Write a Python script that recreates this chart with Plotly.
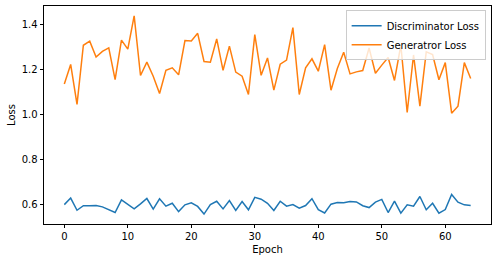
import plotly.graph_objects as go

epochs = list(range(65))
disc_loss = [0.601, 0.630, 0.576, 0.596, 0.596, 0.597, 0.591, 0.579, 0.566, 0.622,
             0.601, 0.582, 0.604, 0.628, 0.581, 0.627, 0.594, 0.607, 0.570, 0.600,
             0.609, 0.593, 0.559, 0.601, 0.616, 0.582, 0.619, 0.575, 0.615, 0.578,
             0.633, 0.625, 0.607, 0.575, 0.616, 0.594, 0.601, 0.585, 0.597, 0.627,
             0.579, 0.564, 0.603, 0.610, 0.609, 0.615, 0.613, 0.596, 0.588, 0.612,
             0.624, 0.566, 0.616, 0.563, 0.600, 0.594, 0.637, 0.578, 0.607, 0.563,
             0.579, 0.646, 0.612, 0.600, 0.597]
gen_loss = [1.135, 1.222, 1.045, 1.307, 1.325, 1.255, 1.280, 1.295, 1.155, 1.330,
            1.290, 1.437, 1.173, 1.232, 1.170, 1.093, 1.196, 1.207, 1.176, 1.328,
            1.326, 1.360, 1.235, 1.232, 1.335, 1.196, 1.303, 1.188, 1.170, 1.089,
            1.354, 1.174, 1.251, 1.108, 1.223, 1.241, 1.385, 1.089, 1.207, 1.247,
            1.192, 1.310, 1.108, 1.204, 1.276, 1.180, 1.189, 1.195, 1.295, 1.183,
            1.219, 1.253, 1.151, 1.307, 1.009, 1.264, 1.037, 1.278, 1.266, 1.154,
            1.230, 1.006, 1.037, 1.230, 1.160]
x_ticks = [0, 10, 20, 30, 40, 50, 60]
y_ticks = [0.6, 0.8, 1.0, 1.2, 1.4]

FONT = "DejaVu Sans"

fig = go.Figure()
fig.add_trace(go.Scatter(x=epochs, y=disc_loss, mode="lines", name="Discriminator Loss",
                         line=dict(color="#1f77b4", width=1.5)))
fig.add_trace(go.Scatter(x=epochs, y=gen_loss, mode="lines", name="Generatror Loss",
                         line=dict(color="#ff7f0e", width=1.5)))

xmin, xmax = min(epochs), max(epochs)
xm = (xmax - xmin) * 0.05
allv = disc_loss + gen_loss
ymin, ymax = min(allv), max(allv)
ym = (ymax - ymin) * 0.05

axis_common = dict(showgrid=False, zeroline=False, showline=True, linecolor="black",
                   linewidth=0.8, mirror=True, ticks="outside", ticklen=3.5,
                   tickwidth=0.8, tickcolor="black",
                   tickfont=dict(family=FONT, size=10, color="black"))

fig.update_layout(
    width=497, height=262,
    margin=dict(l=44, r=6, t=6, b=38),
    paper_bgcolor="white", plot_bgcolor="white",
    font=dict(family=FONT, size=10, color="black"),
    xaxis=dict(range=[xmin - xm, xmax + xm], tickvals=x_ticks,
               title=dict(text="Epoch", font=dict(family=FONT, size=10), standoff=4),
               **axis_common),
    yaxis=dict(range=[ymin - ym, ymax + ym], tickvals=y_ticks, tickformat=".1f",
               title=dict(text="Loss", font=dict(family=FONT, size=10), standoff=4),
               **axis_common),
    legend=dict(x=0.988, y=0.98, xanchor="right", yanchor="top",
                bgcolor="rgba(255,255,255,0.8)", bordercolor="#cccccc", borderwidth=1,
                font=dict(family=FONT, size=10, color="black"),
                itemwidth=30, tracegroupgap=0),
    showlegend=True,
)

fig.write_html("out.html")
